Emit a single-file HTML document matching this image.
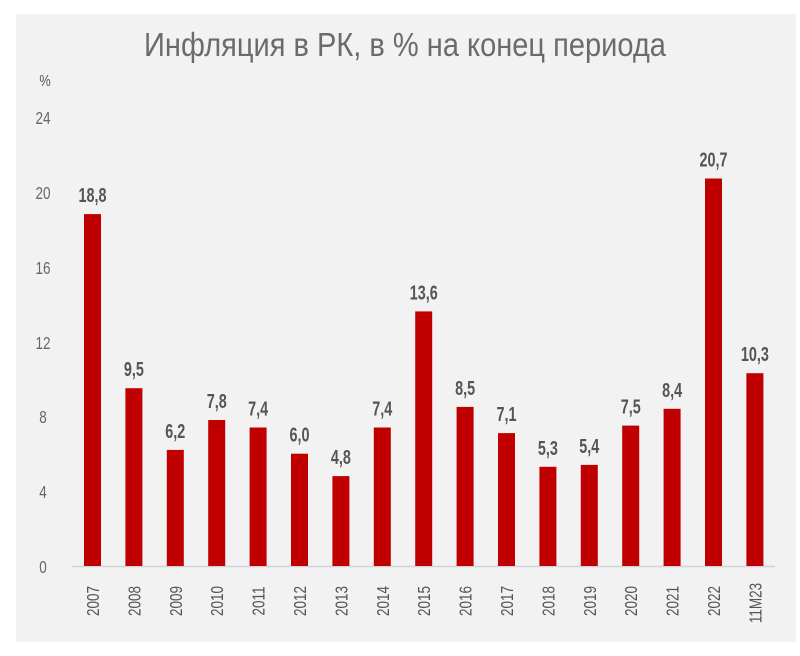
<!DOCTYPE html>
<html><head><meta charset="utf-8"><style>
body{margin:0;background:#fff;}
text{font-family:"Liberation Sans",sans-serif;}
</style></head><body>
<svg width="800" height="651" xmlns="http://www.w3.org/2000/svg">
<rect x="0" y="0" width="800" height="651" fill="#fff"/>
<rect x="16" y="14" width="780" height="628" fill="#f2f2f2"/>
<text transform="translate(405,56) scale(0.88,1)" font-size="33" fill="#6b6b6b" text-anchor="middle">Инфляция в РК, в % на конец периода</text>
<text transform="translate(45,86) scale(0.8,1)" font-size="16" fill="#555" text-anchor="middle">%</text>
<g font-size="18" fill="#666" text-anchor="middle">
<text transform="translate(43,124) scale(0.75,1)">24</text>
<text transform="translate(43,199) scale(0.75,1)">20</text>
<text transform="translate(43,274) scale(0.75,1)">16</text>
<text transform="translate(43,349) scale(0.75,1)">12</text>
<text transform="translate(43,423) scale(0.75,1)">8</text>
<text transform="translate(43,498) scale(0.75,1)">4</text>
<text transform="translate(43,573) scale(0.75,1)">0</text>
</g>
<line x1="72" y1="566.5" x2="775" y2="566.5" stroke="#d0d4da" stroke-width="1.5"/>
<g fill="#c00000">
<rect x="84" y="214.1" width="17" height="351.9"/>
<rect x="125.4" y="388.2" width="17" height="177.8"/>
<rect x="166.8" y="449.9" width="17" height="116.1"/>
<rect x="208.2" y="420" width="17" height="146"/>
<rect x="249.6" y="427.5" width="17" height="138.5"/>
<rect x="291" y="453.7" width="17" height="112.3"/>
<rect x="332.4" y="476.1" width="17" height="89.9"/>
<rect x="373.8" y="427.5" width="17" height="138.5"/>
<rect x="415.2" y="311.4" width="17" height="254.6"/>
<rect x="456.6" y="406.9" width="17" height="159.1"/>
<rect x="498" y="433.1" width="17" height="132.9"/>
<rect x="539.4" y="466.8" width="17" height="99.2"/>
<rect x="580.8" y="464.9" width="17" height="101.1"/>
<rect x="622.2" y="425.6" width="17" height="140.4"/>
<rect x="663.6" y="408.8" width="17" height="157.2"/>
<rect x="705" y="178.5" width="17" height="387.5"/>
<rect x="746.4" y="373.2" width="17" height="192.8"/>
</g>
<g font-size="20" font-weight="bold" fill="#555" text-anchor="middle">
<text transform="translate(92.5,202) scale(0.72,1)">18,8</text>
<text transform="translate(133.9,376) scale(0.72,1)">9,5</text>
<text transform="translate(175.3,438) scale(0.72,1)">6,2</text>
<text transform="translate(216.7,408) scale(0.72,1)">7,8</text>
<text transform="translate(258.1,415.5) scale(0.72,1)">7,4</text>
<text transform="translate(299.5,441.7) scale(0.72,1)">6,0</text>
<text transform="translate(340.9,464) scale(0.72,1)">4,8</text>
<text transform="translate(382.3,415.5) scale(0.72,1)">7,4</text>
<text transform="translate(423.7,299.4) scale(0.72,1)">13,6</text>
<text transform="translate(465.1,395) scale(0.72,1)">8,5</text>
<text transform="translate(506.5,421) scale(0.72,1)">7,1</text>
<text transform="translate(547.9,455) scale(0.72,1)">5,3</text>
<text transform="translate(589.3,453) scale(0.72,1)">5,4</text>
<text transform="translate(630.7,413.6) scale(0.72,1)">7,5</text>
<text transform="translate(672.1,397) scale(0.72,1)">8,4</text>
<text transform="translate(713.5,166.5) scale(0.72,1)">20,7</text>
<text transform="translate(754.9,361) scale(0.72,1)">10,3</text>
</g>
<g font-size="18" fill="#555" text-anchor="middle">
<text transform="translate(99,601) rotate(-90) scale(0.75,1)">2007</text>
<text transform="translate(140.4,601) rotate(-90) scale(0.75,1)">2008</text>
<text transform="translate(181.8,601) rotate(-90) scale(0.75,1)">2009</text>
<text transform="translate(223.2,601) rotate(-90) scale(0.75,1)">2010</text>
<text transform="translate(264.6,601) rotate(-90) scale(0.75,1)">2011</text>
<text transform="translate(306,601) rotate(-90) scale(0.75,1)">2012</text>
<text transform="translate(347.4,601) rotate(-90) scale(0.75,1)">2013</text>
<text transform="translate(388.8,601) rotate(-90) scale(0.75,1)">2014</text>
<text transform="translate(430.2,601) rotate(-90) scale(0.75,1)">2015</text>
<text transform="translate(471.6,601) rotate(-90) scale(0.75,1)">2016</text>
<text transform="translate(513,601) rotate(-90) scale(0.75,1)">2017</text>
<text transform="translate(554.4,601) rotate(-90) scale(0.75,1)">2018</text>
<text transform="translate(595.8,601) rotate(-90) scale(0.75,1)">2019</text>
<text transform="translate(637.2,601) rotate(-90) scale(0.75,1)">2020</text>
<text transform="translate(678.6,601) rotate(-90) scale(0.75,1)">2021</text>
<text transform="translate(720,601) rotate(-90) scale(0.75,1)">2022</text>
<text transform="translate(761.4,603) rotate(-90) scale(0.75,1)">11M23</text>
</g>
</svg>
</body></html>
